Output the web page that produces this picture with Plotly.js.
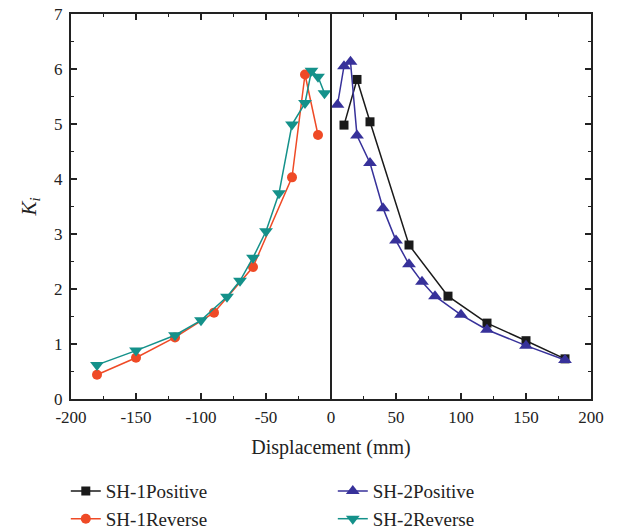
<!DOCTYPE html>
<html>
<head>
<meta charset="utf-8">
<script src="https://cdn.plot.ly/plotly-3.0.1.min.js"></script>
<style>html,body{margin:0;padding:0;background:#fff;}#chart{width:620px;height:532px;}</style>
</head>
<body>
<div id="chart"></div>
<script>
const sh1PosX = [10, 20, 30, 60, 90, 120, 150, 180];
const sh1PosY = [4.98, 5.81, 5.04, 2.80, 1.87, 1.38, 1.06, 0.73];

const sh2PosX = [5, 10, 15, 20, 30, 40, 50, 60, 70, 80, 100, 120, 150, 180];
const sh2PosY = [5.35, 6.05, 6.13, 4.79, 4.29, 3.47, 2.88, 2.45, 2.13, 1.87, 1.53, 1.26, 0.97, 0.71];

const sh1RevX = [-180, -150, -120, -90, -60, -30, -20, -10];
const sh1RevY = [0.44, 0.75, 1.12, 1.57, 2.40, 4.03, 5.90, 4.80];

const sh2RevX = [-180, -150, -120, -100, -80, -70, -60, -50, -40, -30, -20, -15, -10, -5];
const sh2RevY = [0.62, 0.88, 1.16, 1.43, 1.86, 2.15, 2.57, 3.05, 3.74, 4.99, 5.38, 5.97, 5.86, 5.56];

const xTicks = [-200, -150, -100, -50, 0, 50, 100, 150, 200];
const yTicks = [0, 1, 2, 3, 4, 5, 6, 7];

const serif = "Liberation Serif, Times New Roman, serif";

const traces = [
  {x: sh1PosX, y: sh1PosY, name: "SH-1Positive", mode: "lines+markers",
   line: {color: "#1a1a1a", width: 1.5}, marker: {symbol: "square", size: 9, color: "#1a1a1a"}},
  {x: sh2PosX, y: sh2PosY, name: "SH-2Positive", mode: "lines+markers",
   line: {color: "#37319a", width: 1.5}, marker: {symbol: "triangle-up", size: 12, color: "#37319a"}},
  {x: sh1RevX, y: sh1RevY, name: "SH-1Reverse", mode: "lines+markers",
   line: {color: "#ef4a26", width: 1.5}, marker: {symbol: "circle", size: 10, color: "#ef4a26"}},
  {x: sh2RevX, y: sh2RevY, name: "SH-2Reverse", mode: "lines+markers",
   line: {color: "#14918a", width: 1.5}, marker: {symbol: "triangle-down", size: 12, color: "#14918a"}}
];

const layout = {
  width: 620, height: 532,
  margin: {l: 71, r: 29, t: 14, b: 133, autoexpand: false},
  paper_bgcolor: "#fff", plot_bgcolor: "#fff",
  font: {family: serif, size: 17, color: "#222"},
  showlegend: true,
  xaxis: {
    range: [-200, 200], tickvals: xTicks, ticktext: xTicks.map(String),
    ticks: "inside", ticklen: 6, tickwidth: 1.2, tickcolor: "#222",
    minor: {dtick: 25, ticks: "inside", ticklen: 3, tickcolor: "#222"},
    showline: true, linecolor: "#222", linewidth: 2, mirror: "allticks",
    showgrid: false, zeroline: false, automargin: false, ticklabelstandoff: 2,
    tickfont: {family: serif, size: 17, color: "#222"},
    title: {text: "Displacement (mm)", font: {family: serif, size: 20, color: "#222"}, standoff: 14}
  },
  yaxis: {
    range: [0, 7], tickvals: yTicks, ticktext: yTicks.map(String),
    ticks: "inside", ticklen: 6, tickwidth: 1.2, tickcolor: "#222",
    minor: {dtick: 0.5, ticks: "inside", ticklen: 3, tickcolor: "#222"},
    showline: true, linecolor: "#222", linewidth: 2, mirror: "allticks",
    showgrid: false, zeroline: false, automargin: false, ticklabelstandoff: 3,
    tickfont: {family: serif, size: 17, color: "#222"},
    title: {text: "<i>K<sub>i</sub></i>", font: {family: serif, size: 21, color: "#222"}, standoff: 12}
  },
  shapes: [
    {type: "line", xref: "x", yref: "y", x0: 0, x1: 0, y0: 0, y1: 7,
     line: {color: "#222", width: 2}}
  ],
  legend: {
    orientation: "h", x: -0.01, xanchor: "left", y: -0.19, yanchor: "top",
    entrywidth: 222, entrywidthmode: "pixels", traceorder: "normal", tracegroupgap: 0,
    font: {family: serif, size: 19, color: "#222"}, bgcolor: "rgba(0,0,0,0)"
  }
};

Plotly.newPlot("chart", traces, layout, {displayModeBar: false, staticPlot: true});
</script>
</body>
</html>
